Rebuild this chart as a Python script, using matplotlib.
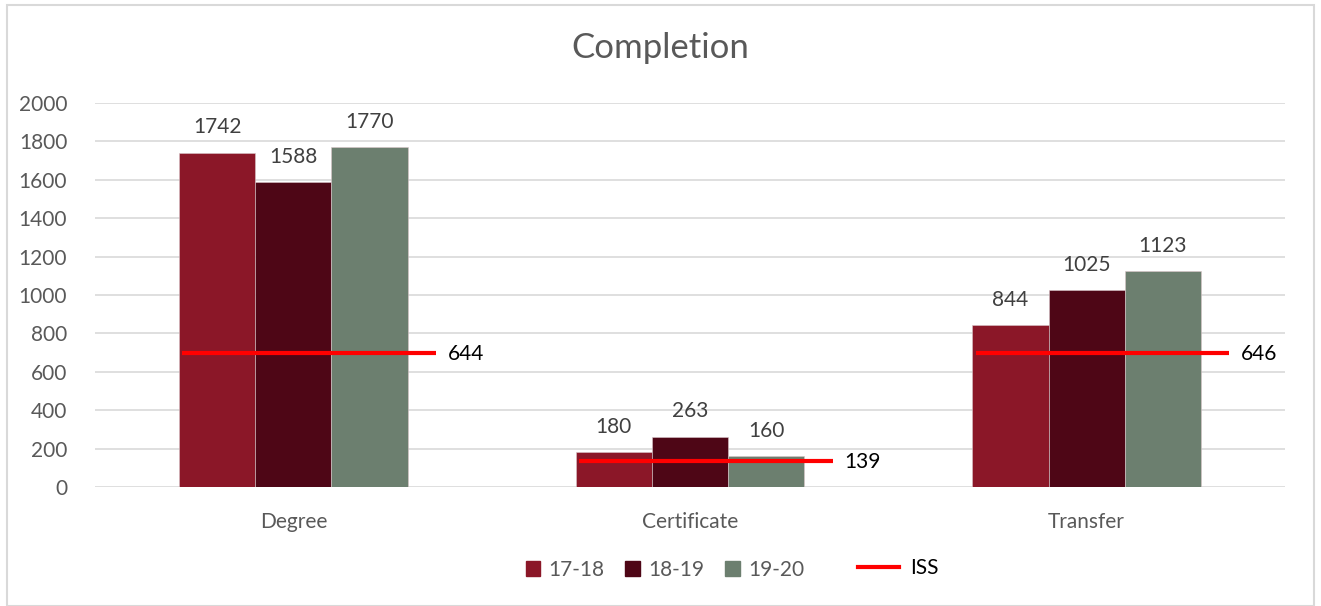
import numpy as np
import matplotlib.pyplot as plt
from matplotlib.patches import Rectangle
from matplotlib.lines import Line2D

plt.rcParams['font.family'] = ['Lato', 'DejaVu Sans']

categories = ['Degree', 'Certificate', 'Transfer']
series_names = ['17-18', '18-19', '19-20']
values_1718 = [1742, 180, 844]
values_1819 = [1588, 263, 1025]
values_1920 = [1770, 160, 1123]
iss_labels = [644, 139, 646]
# height where the ISS marker is actually drawn in the source chart
iss_drawn = [700, 137, 700]
y_ticks = [0, 200, 400, 600, 800, 1000, 1200, 1400, 1600, 1800, 2000]

colors = ['#8B1728', '#4E0616', '#6C7F6F']
W, H = 1321, 606
fig = plt.figure(figsize=(W / 100, H / 100), dpi=100)
ax = fig.add_axes([95 / W, 119 / H, (1285 - 95) / W, (487 - 103) / H])

x = np.arange(len(categories))
bw = 0.192
all_vals = [values_1718, values_1819, values_1920]
for i, vals in enumerate(all_vals):
    xs = x + (i - 1) * bw
    ax.bar(xs, vals, width=bw, color=colors[i], edgecolor='#d9c6c9', linewidth=0.4,
           label=series_names[i], zorder=2)
    for xi, v in zip(xs, vals):
        ax.text(xi, v + 80, str(v), ha='center', va='bottom', fontsize=15, color='#404040')

# ISS marker lines
for xi, lvl, lab in zip(x, iss_drawn, iss_labels):
    ax.plot([xi - 0.28, xi + 0.36], [lvl, lvl], color='#FF0000', lw=3, zorder=3,
            solid_capstyle='butt')
    ax.text(xi + 0.39, lvl - 8, str(lab), ha='left', va='center', fontsize=15, color='black')

ax.set_xlim(-0.5, 2.5)
ax.set_ylim(0, 2000)
ax.set_yticks(y_ticks)
ax.set_xticks(x)
ax.set_xticklabels(categories, fontsize=15, color='#595959')
ax.tick_params(axis='y', labelsize=15, labelcolor='#595959', length=0, pad=20)
ax.tick_params(axis='x', length=0, pad=18)
ax.grid(axis='y', color='#d9d9d9', lw=1.2, zorder=0)
ax.set_axisbelow(True)
for s in ax.spines.values():
    s.set_visible(False)

fig.text(660 / W, 1 - 48 / H, 'Completion', ha='center', va='center', fontsize=25, color='#595959')

# legend
handles = [Rectangle((0, 0), 1, 1, color=c) for c in colors]
leg1 = fig.legend(handles, series_names, loc='center', bbox_to_anchor=(665 / W, 1 - 570 / H),
                  ncol=3, frameon=False, fontsize=15, handlelength=0.7, handleheight=0.7,
                  handletextpad=0.4, columnspacing=1.0, labelcolor='#595959')
leg2 = fig.legend([Line2D([0], [0], color='#FF0000', lw=3)], ['ISS'], loc='center',
                  bbox_to_anchor=(898 / W, 1 - 568 / H), frameon=False, fontsize=15,
                  handlelength=2.0, handletextpad=0.5, labelcolor='black')

fig.patches.append(Rectangle((7 / W, 0), (1314 - 7) / W, 1 - 5 / H, transform=fig.transFigure,
                             fill=False, edgecolor='#d9d9d9', lw=1.5))

fig.savefig('out.png', dpi=100)
